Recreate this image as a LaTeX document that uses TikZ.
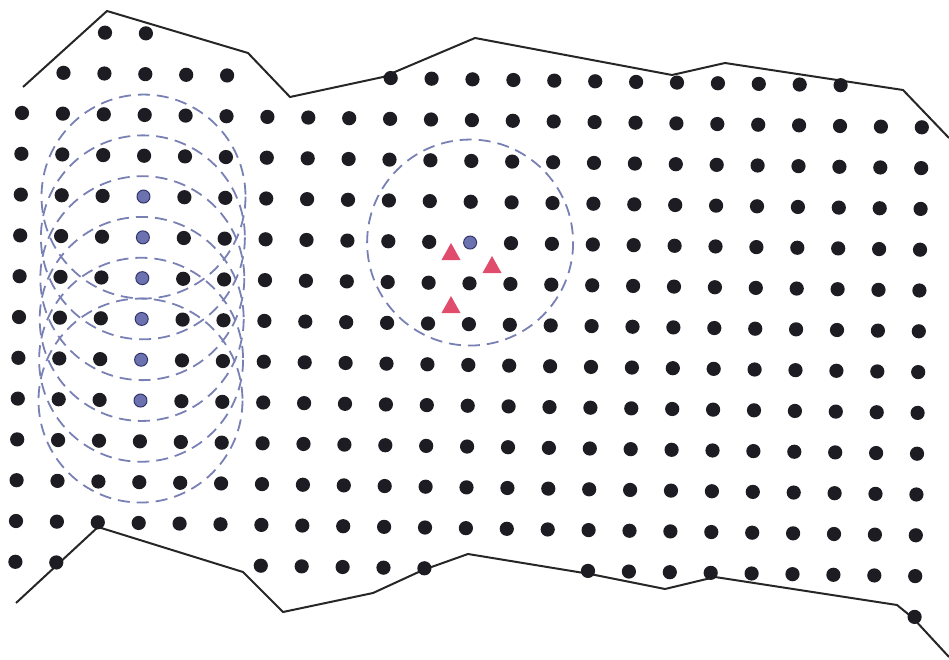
\documentclass[tikz,border=0pt]{standalone}
\usetikzlibrary{calc}
\definecolor{dotblack}{HTML}{1C1C22}
\definecolor{bluefill}{HTML}{6C72B0}
\definecolor{blueedge}{HTML}{2C3066}
\definecolor{circblue}{HTML}{7880B4}
\definecolor{trired}{HTML}{E04C6C}
\tikzset{
  gridpt/.style={fill=dotblack},
  bluept/.style={fill=bluefill,draw=blueedge,line width=0.9pt},
  sensrange/.style={draw=circblue,line width=1.8pt,dash pattern=on 12pt off 7pt},
  border/.style={draw=black!85,line width=2pt,line join=miter},
  tri/.style={fill=trired}
}
\newcommand{\gx}[2]{22+40.9*(#1)-0.6*(#2)}
\newcommand{\gy}[2]{113+40.8*(#2)+0.65*(#1)}
\begin{document}
\begin{tikzpicture}[x=1pt,y=-1pt]
\useasboundingbox (0,0) rectangle (949,660);
% boundary lines
\draw[border] (23,87) -- (107,11) -- (248,53) -- (290,97) -- (383,77) -- (475,38) -- (672,75) -- (725,63) -- (903,90) -- (949,138);
\draw[border] (16,603) -- (98,527) -- (243,572) -- (283,612) -- (373,593) -- (423,570) -- (468,554) -- (590,574) -- (665,589) -- (715,577) -- (897,605) -- (913,618) -- (949,657);
% grid dots
\foreach \j in {0,...,10}{
  \foreach \i in {0,...,22}{
    \fill[gridpt] ({\gx{\i}{\j}},{\gy{\i}{\j}}) circle (7.1);
  }
}
\foreach \i in {2,3}{\fill[gridpt] ({\gx{\i}{-2}},{\gy{\i}{-2}}) circle (7.1);}
\foreach \i in {1,...,5,9,10,...,20}{\fill[gridpt] ({\gx{\i}{-1}},{\gy{\i}{-1}}) circle (7.1);}
\foreach \i in {0,1,6,7,...,10,14,15,...,22}{\fill[gridpt] ({\gx{\i}{11}},{\gy{\i}{11}}) circle (7.1);}
\fill[gridpt] ({\gx{22}{12}},{\gy{22}{12}}) circle (7.1);
% sensing nodes (blue) and their ranges
\foreach \j in {2,...,7}{
  \coordinate (b\j) at ({\gx{3}{\j}},{\gy{3}{\j}});
  \fill[white] (b\j) circle (7.5);
}
\foreach \j in {2,...,7}{
  \draw[sensrange] (b\j) circle (102);
}
\foreach \j in {2,...,7}{
  \filldraw[bluept] (b\j) circle (6.5);
}
\coordinate (c) at ({\gx{11}{3}},{\gy{11}{3}});
\fill[white] (c) circle (7.5);
\draw[sensrange] (c) circle (103);
\filldraw[bluept] (c) circle (6.5);
% red triangles
\coordinate (t1) at (451,252);
\coordinate (t2) at (492,265);
\coordinate (t3) at (451,305);
\foreach \k in {1,2,3}{
  \fill[tri] ($(t\k)+(-9.5,8)$) -- ($(t\k)+(9.5,8)$) -- ($(t\k)+(0,-9)$) -- cycle;
}
\end{tikzpicture}
\end{document}
